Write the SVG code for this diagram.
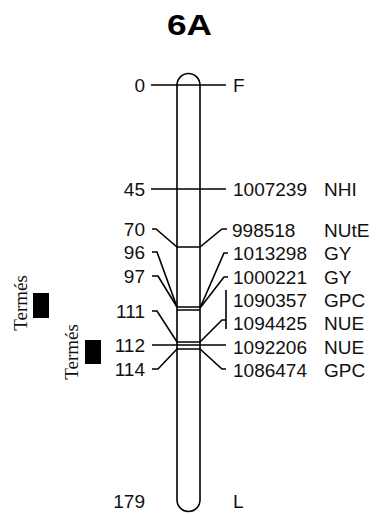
<svg xmlns="http://www.w3.org/2000/svg" width="377" height="515" viewBox="0 0 377 515">
<style>
.ln{fill:none;stroke:#000;stroke-width:1.6;stroke-linejoin:miter}
.lab{font-family:"Liberation Sans",Arial,sans-serif;font-size:19px;fill:#111}
.l{text-anchor:end}
.tm{font-family:"Liberation Serif","Times New Roman",serif;font-size:19px;fill:#111;text-anchor:middle}
</style>
<rect width="377" height="515" fill="#fff"/>
<text x="189.5" y="35" font-family="Liberation Sans,Arial,sans-serif" font-weight="bold" font-size="29" text-anchor="middle" textLength="45" lengthAdjust="spacingAndGlyphs">6A</text>
<g id="chromosome">
<path class="ln" d="M177,85 A11.5,11.5 0 0 1 200,85 L200,500 A11.5,11.5 0 0 1 177,500 Z"/>
</g>
<g id="connectors">
<path class="ln" d="M151,85 H226"/>
<path class="ln" d="M151,189 H226"/>
<path class="ln" d="M152,229 H156 L177,247 H200 L222,229 H227"/>
<path class="ln" d="M152,252 H157 L177,307"/>
<path class="ln" d="M152,276 H158 L177,307"/>
<path class="ln" d="M177,307 H200 M177,310 H200"/>
<path class="ln" d="M200,308 L224,253 H228"/>
<path class="ln" d="M200,308 L224,277 H228"/>
<path class="ln" d="M152,311 H157 L177,342 H200"/>
<path class="ln" d="M152,345 H226"/>
<path class="ln" d="M152,369 H158 L177,349 H200"/>
<path class="ln" d="M226,290 V329"/>
<path class="ln" d="M200,342 L222,320 H226"/>
<path class="ln" d="M200,349 L222,369 H226"/>
</g>
<g id="left-labels">
<text class="lab l" x="145" y="92">0</text>
<text class="lab l" x="145" y="196">45</text>
<text class="lab l" x="145" y="236">70</text>
<text class="lab l" x="145" y="259">96</text>
<text class="lab l" x="145" y="283">97</text>
<text class="lab l" x="145" y="318">111</text>
<text class="lab l" x="145" y="352">112</text>
<text class="lab l" x="145" y="376">114</text>
<text class="lab l" x="145" y="508">179</text>
</g>
<g id="right-labels">
<text class="lab" x="233" y="92">F</text>
<text class="lab" x="233" y="195.5">1007239</text><text class="lab" x="324" y="195.5">NHI</text>
<text class="lab" x="232" y="237">998518</text><text class="lab" x="324" y="237">NUtE</text>
<text class="lab" x="233" y="260">1013298</text><text class="lab" x="324" y="260">GY</text>
<text class="lab" x="233" y="284">1000221</text><text class="lab" x="324" y="284">GY</text>
<text class="lab" x="233" y="307">1090357</text><text class="lab" x="324" y="307">GPC</text>
<text class="lab" x="233" y="330">1094425</text><text class="lab" x="324" y="330">NUE</text>
<text class="lab" x="233" y="354">1092206</text><text class="lab" x="324" y="354">NUE</text>
<text class="lab" x="233" y="377">1086474</text><text class="lab" x="324" y="377">GPC</text>
<text class="lab" x="233" y="508">L</text>
</g>
<g id="qtl1">
<rect x="33" y="293" width="16" height="25" fill="#000"/>
<text class="tm" x="27" y="303" transform="rotate(-90 27 303)">Termés</text>
</g>
<g id="qtl2">
<rect x="85" y="340" width="16" height="24" fill="#000"/>
<text class="tm" x="78" y="352" transform="rotate(-90 78 352)">Termés</text>
</g>
</svg>
